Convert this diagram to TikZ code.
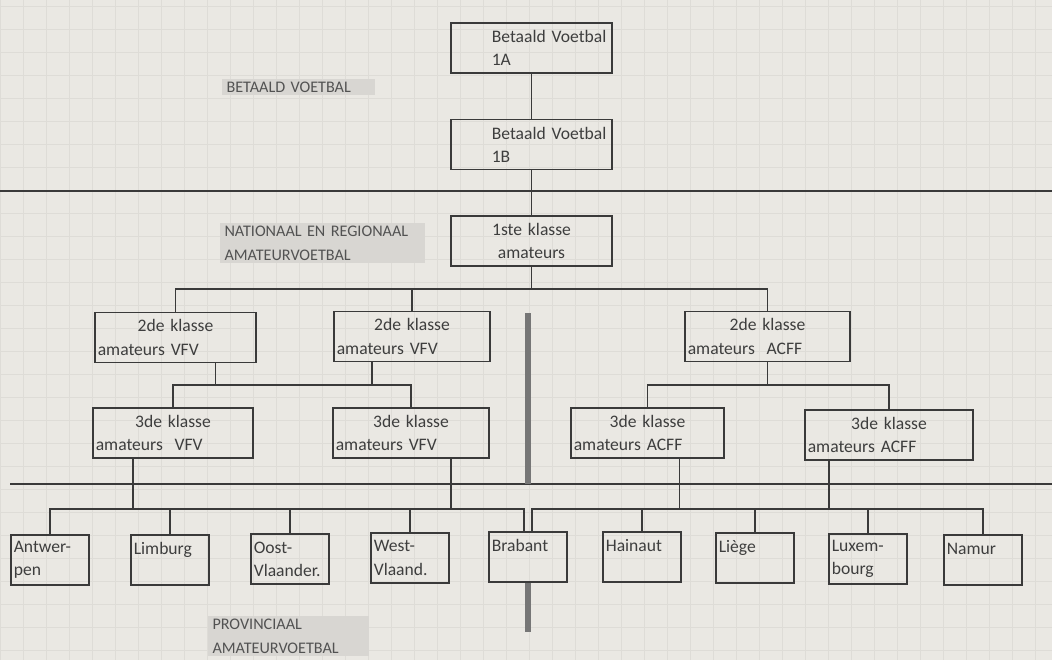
\documentclass[tikz,border=0pt]{standalone}
\usepackage{fontspec}
\setmainfont{Carlito}
\usepackage{tikz}

\definecolor{paper}{RGB}{234,232,227}
\definecolor{gridc}{RGB}{222,220,215}
\definecolor{ink}{RGB}{58,58,58}
\definecolor{txt}{RGB}{62,62,62}
\definecolor{labtxt}{RGB}{82,82,82}
\definecolor{hl}{RGB}{216,214,210}
\definecolor{divc}{RGB}{118,118,118}

\newcommand{\ctrline}[1]{\makebox[\hsize][c]{#1}}
\newcommand{\lftline}[1]{\makebox[\hsize][l]{#1}}

\begin{document}
\begin{tikzpicture}[x=0.025cm,y=-0.025cm,
      every node/.append style={font=\fontsize{12.5}{16.5}\selectfont,text=txt},
      klas/.style={draw=ink,line width=1pt,inner xsep=2pt,inner ysep=2pt,
        minimum height=1.25cm,align=left,
        /utils/exec={\pgfmathsetlengthmacro\klasw{#1*0.025cm-4pt}},
        text width=\klasw,minimum width=#1*0.025cm},
      prov/.style={klas=78,minimum height=1.25cm},
      lab/.style={fill=hl,anchor=west,align=left,inner xsep=3pt,inner ysep=2pt,
        text=labtxt,font=\fontsize{11.5}{17}\selectfont,text width=#1},
      conn/.style={draw=ink,line width=1pt},
      rule/.style={draw=ink,line width=1.1pt},
      divider/.style={draw=divc,line width=4pt},
      gridline/.style={draw=gridc,line width=0.4pt}]
    \path[use as bounding box,fill=paper] (0,0) rectangle (1052,660);
    \foreach \gx in {0,23,...,1052} \draw[gridline] (\gx,0) -- (\gx,660);
    \foreach \gy in {6,29,...,660} \draw[gridline] (0,\gy) -- (1052,\gy);

    \node[lab=3.6cm] (lbBet) at (222,87) {BETAALD VOETBAL};
    \node[lab=4.9cm] (lbNat) at (220,243) {NATIONAAL EN REGIONAAL\\AMATEURVOETBAL};
    \node[lab=3.8cm] (lbProv) at (208,636) {PROVINCIAAL\\AMATEURVOETBAL};

    \node[klas=161] (betA) at (531.5,48) {\lftline{\hspace*{0.95cm}Betaald Voetbal}\\\lftline{\hspace*{0.95cm}1A}};
    \node[klas=161] (betB) at (531.5,144.5) {\lftline{\hspace*{0.95cm}Betaald Voetbal}\\\lftline{\hspace*{0.95cm}1B}};
    \node[klas=161] (ste) at (531.5,241) {\ctrline{1ste klasse}\\\ctrline{amateurs}};

    \node[klas=161] (twoL) at (175.5,337.5) {\ctrline{2de klasse}\\\lftline{amateurs VFV}};
    \node[klas=156] (twoM) at (412,336.5) {\ctrline{2de klasse}\\\lftline{amateurs VFV}};
    \node[klas=165] (twoR) at (767.5,336.5) {\ctrline{2de klasse}\\\lftline{amateurs\ \ ACFF}};

    \node[klas=160] (thrL) at (173,433) {\ctrline{3de klasse}\\\lftline{amateurs\ \ VFV}};
    \node[klas=156] (thrM) at (411,433) {\ctrline{3de klasse}\\\lftline{amateurs VFV}};
    \node[klas=153] (thrAL) at (647.5,433) {\ctrline{3de klasse}\\\lftline{amateurs ACFF}};
    \node[klas=168] (thrAR) at (889,435) {\ctrline{3de klasse}\\\lftline{amateurs ACFF}};

    \node[prov] (antw) at (50,560) {\lftline{Antwer-}\\\lftline{pen}};
    \node[prov] (limb) at (170,560) {\lftline{Limburg}\\\mbox{}};
    \node[prov] (oost) at (290,559) {\lftline{Oost-}\\\lftline{Vlaander.}};
    \node[prov] (west) at (410,558) {\lftline{West-}\\\lftline{Vlaand.}};
    \node[prov] (brab) at (528,557) {\lftline{Brabant}\\\mbox{}};
    \node[prov] (hain) at (642,557) {\lftline{Hainaut}\\\mbox{}};
    \node[prov] (lieg) at (755,558) {\lftline{Liège}\\\mbox{}};
    \node[prov] (luxe) at (868,559) {\lftline{Luxem-}\\\lftline{bourg}};
    \node[prov] (namu) at (983,560) {\lftline{Namur}\\\mbox{}};

    \coordinate (sepA0) at (0,191);
    \coordinate (sepA1) at (1052,191);
    \coordinate (sepB0) at (10,484);
    \coordinate (sepB1) at (1052,484);
    \draw[rule] (sepA0) -- (sepA1);
    \draw[rule] (sepB0) -- (sepB1);

    \coordinate (divT) at (528,313);
    \coordinate (divB) at (528,632);
    \draw[divider] (divT) -- (divT |- sepB0);
    \draw[divider] (brab) -- (divB);

    \draw[conn] (betA) -- (betB);
    \draw[conn] (betB) -- (ste);

    \coordinate (busA) at (0,289);
    \draw[conn] (ste) -- (ste |- busA);
    \draw[conn] (twoL.north) -- (twoL.north |- busA) -- (twoR.north |- busA) -- (twoR.north);
    \draw[conn] (twoM) -- (twoM |- busA);

    \coordinate (busV) at (0,385);
    \coordinate (dVL) at ([xshift=1cm]twoL.south);
    \coordinate (dVM) at ([xshift=-1cm]twoM.south);
    \draw[conn] (thrL.north) -- (thrL.north |- busV) -- (thrM.north |- busV) -- (thrM.north);
    \draw[conn] (dVL) -- (dVL |- busV);
    \draw[conn] (dVM) -- (dVM |- busV);
    \draw[conn] (twoR) -- (twoR |- busV);
    \draw[conn] (thrAL.north) -- (thrAL.north |- busV) -- (thrAR.north |- busV) -- (thrAR.north);

    \coordinate (busP) at (0,509);
    \coordinate (brabL) at ([xshift=-0.1cm]brab.north);
    \coordinate (brabR) at ([xshift=0.1cm]brab.north);
    \coordinate (dPL) at ([xshift=-1cm]thrL.south);
    \coordinate (dPM) at ([xshift=1cm]thrM.south);
    \coordinate (dPA) at ([xshift=0.8cm]thrAL.south);
    \coordinate (dPB) at ([xshift=-1.5cm]thrAR.south);
    \draw[conn] (antw.north) -- (antw.north |- busP) -- (brabL |- busP) -- (brabL);
    \draw[conn] (namu.north) -- (namu.north |- busP) -- (brabR |- busP) -- (brabR);
    \foreach \p in {limb,oost,west,hain,lieg,luxe}
      \draw[conn] (\p.north) -- (\p.north |- busP);
    \foreach \d in {dPL,dPM,dPA,dPB}
      \draw[conn] (\d) -- (\d |- busP);
  \end{tikzpicture}
\end{document}
